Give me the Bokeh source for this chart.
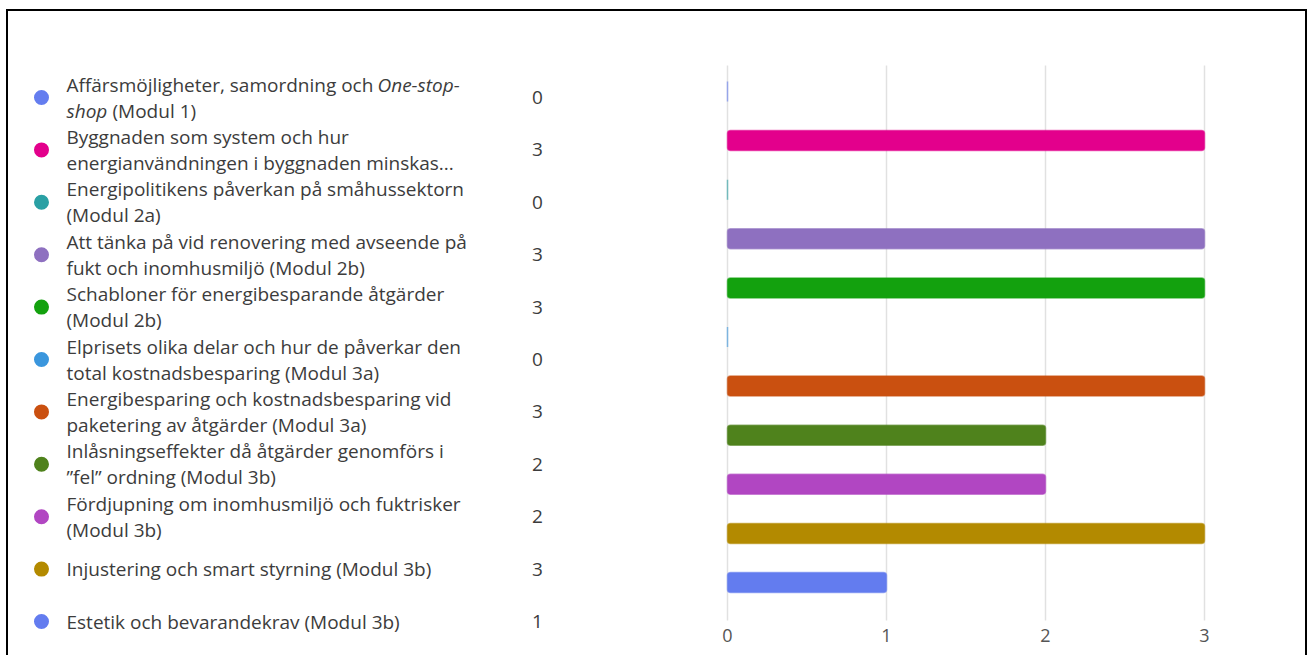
from bokeh.plotting import figure
from bokeh.layouts import row
from bokeh.models import Range1d, FixedTicker, ColumnDataSource
from bokeh.core.properties import value
from bokeh.embed import file_html
from bokeh.resources import INLINE

# ---------------- data ----------------
categories = [
    "Affärsmöjligheter, samordning och One-stop-shop (Modul 1)",
    "Byggnaden som system och hur energianvändningen i byggnaden minskas...",
    "Energipolitikens påverkan på småhussektorn (Modul 2a)",
    "Att tänka på vid renovering med avseende på fukt och inomhusmiljö (Modul 2b)",
    "Schabloner för energibesparande åtgärder (Modul 2b)",
    "Elprisets olika delar och hur de påverkar den total kostnadsbesparing (Modul 3a)",
    "Energibesparing och kostnadsbesparing vid paketering av åtgärder (Modul 3a)",
    "Inlåsningseffekter då åtgärder genomförs i ”fel” ordning (Modul 3b)",
    "Fördjupning om inomhusmiljö och fuktrisker (Modul 3b)",
    "Injustering och smart styrning (Modul 3b)",
    "Estetik och bevarandekrav (Modul 3b)",
]
counts = [0, 3, 0, 3, 3, 0, 3, 2, 2, 3, 1]
colors = ["#647DEF", "#E3008C", "#2AA0A4", "#8E70C0", "#13A10E", "#3A96DD",
          "#CA5010", "#4F821C", "#B146C2", "#B38A00", "#637CEF"]
tick_values = [0, 1, 2, 3]

# legend text, wrapped as in the original: each line is a list of (text, italic)
legend_lines = [
    [[("Affärsmöjligheter, samordning och", False), ("One-stop-", True)],
     [("shop", True), ("(Modul 1)", False)]],
    [[("Byggnaden som system och hur", False)],
     [("energianvändningen i byggnaden minskas...", False)]],
    [[("Energipolitikens påverkan på småhussektorn", False)],
     [("(Modul 2a)", False)]],
    [[("Att tänka på vid renovering med avseende på", False)],
     [("fukt och inomhusmiljö (Modul 2b)", False)]],
    [[("Schabloner för energibesparande åtgärder", False)],
     [("(Modul 2b)", False)]],
    [[("Elprisets olika delar och hur de påverkar den", False)],
     [("total kostnadsbesparing (Modul 3a)", False)]],
    [[("Energibesparing och kostnadsbesparing vid", False)],
     [("paketering av åtgärder (Modul 3a)", False)]],
    [[("Inlåsningseffekter då åtgärder genomförs i", False)],
     [("”fel” ordning (Modul 3b)", False)]],
    [[("Fördjupning om inomhusmiljö och fuktrisker", False)],
     [("(Modul 3b)", False)]],
    [[("Injustering och smart styrning (Modul 3b)", False)]],
    [[("Estetik och bevarandekrav (Modul 3b)", False)]],
]

# ---------------- layout constants (page pixels) ----------------
FONT = "Open Sans"
TEXT_COLOR = "#3c3c3c"
FS = "19px"
ORIGIN_X, ORIGIN_Y = 8, 11          # where the figures start on the page
W, H = 1297, 644
LEG_W = 692                         # legend panel: page x 8 .. 700
FRAME_BOTTOM_PAGE = 632             # shared plot-frame bottom (page y)
ROW0, ROW_STEP = 97, 52.4           # legend row centres
LINE_GAP = 13.0
TEXT_X, DOT_X, NUM_X = 66, 41, 537
SEG_X = {(0, 0, 1): 377, (0, 1, 1): 112}

frame_h = FRAME_BOTTOM_PAGE - ORIGIN_Y
MIN_BOTTOM = H - frame_h

# ---------------- legend panel ----------------
leg = figure(width=LEG_W, height=H,
             x_range=Range1d(ORIGIN_X, ORIGIN_X + LEG_W),
             y_range=Range1d(FRAME_BOTTOM_PAGE, ORIGIN_Y),
             output_backend="svg", toolbar_location=None,
             min_border_left=0, min_border_right=0, min_border_top=0,
             min_border_bottom=MIN_BOTTOM,
             x_axis_location=None, y_axis_location=None)
leg.grid.visible = False
leg.outline_line_color = None

row_y = [ROW0 + ROW_STEP * i for i in range(len(categories))]
leg.scatter(x=[DOT_X] * len(categories), y=row_y, size=15, color=colors,
            line_color=None)
leg.text(x=[NUM_X] * len(counts), y=row_y, text=[str(c) for c in counts],
         text_font=value(FONT), text_font_size=FS, text_color=TEXT_COLOR,
         text_align="center", text_baseline="middle")

seg = {False: dict(x=[], y=[], text=[]), True: dict(x=[], y=[], text=[])}
for i, lines in enumerate(legend_lines):
    n = len(lines)
    for j, line in enumerate(lines):
        y = row_y[i] + (j - (n - 1) / 2) * 2 * LINE_GAP
        for k, (t, it) in enumerate(line):
            seg[it]["x"].append(SEG_X.get((i, j, k), TEXT_X))
            seg[it]["y"].append(y)
            seg[it]["text"].append(t)
for it, d in seg.items():
    leg.text(x="x", y="y", text="text", source=ColumnDataSource(d),
             text_font=value(FONT), text_font_size=FS, text_color=TEXT_COLOR,
             text_font_style="italic" if it else "normal",
             text_align="left", text_baseline="middle")

# ---------------- bar panel ----------------
BW = W - LEG_W
BAR_X0 = ORIGIN_X + LEG_W
PX_PER_UNIT = 159.0
ZERO_PAGE_X = 727
BAR_ROW0, BAR_STEP = 91.0, 49.1     # bar row centres (page y)
GRID_TOP, GRID_BOTTOM = 65, 620     # extent of vertical grid lines (page y)

def page_to_row(py):
    return (py - BAR_ROW0) / BAR_STEP

bar = figure(width=BW, height=H,
             x_range=Range1d((BAR_X0 - ZERO_PAGE_X) / PX_PER_UNIT,
                             (BAR_X0 + BW - ZERO_PAGE_X) / PX_PER_UNIT),
             y_range=Range1d(page_to_row(FRAME_BOTTOM_PAGE), page_to_row(ORIGIN_Y)),
             output_backend="svg", toolbar_location=None,
             min_border_left=0, min_border_right=0, min_border_top=0,
             min_border_bottom=MIN_BOTTOM, y_axis_location=None)
bar.outline_line_color = None
bar.grid.visible = False
bar.xaxis.ticker = FixedTicker(ticks=tick_values)
bar.xaxis.axis_line_color = None
bar.xaxis.major_tick_line_color = None
bar.xaxis.minor_tick_line_color = None
bar.xaxis.major_label_standoff = -10
bar.xaxis.major_label_text_font = FONT
bar.xaxis.major_label_text_font_size = "18px"
bar.xaxis.major_label_text_color = "#555555"

# vertical grid lines at the axis ticks
bar.segment(x0=tick_values, x1=tick_values,
            y0=[page_to_row(GRID_TOP)] * len(tick_values),
            y1=[page_to_row(GRID_BOTTOM)] * len(tick_values),
            line_color="#e1e1e1", line_width=1.5)

bar.hbar(y=list(range(len(counts))), left=0, right=counts,
         height=20 / BAR_STEP, fill_color=colors, line_color=colors,
         line_width=1.5, line_alpha=0.6, border_radius=3)

layout = row(leg, bar, styles={"margin": "9px 0 0 6px",
                               "border-left": "2px solid #000",
                               "border-top": "2px solid #000",
                               "border-right": "2px solid #000"})

open("out.html", "w").write(file_html(layout, INLINE))
